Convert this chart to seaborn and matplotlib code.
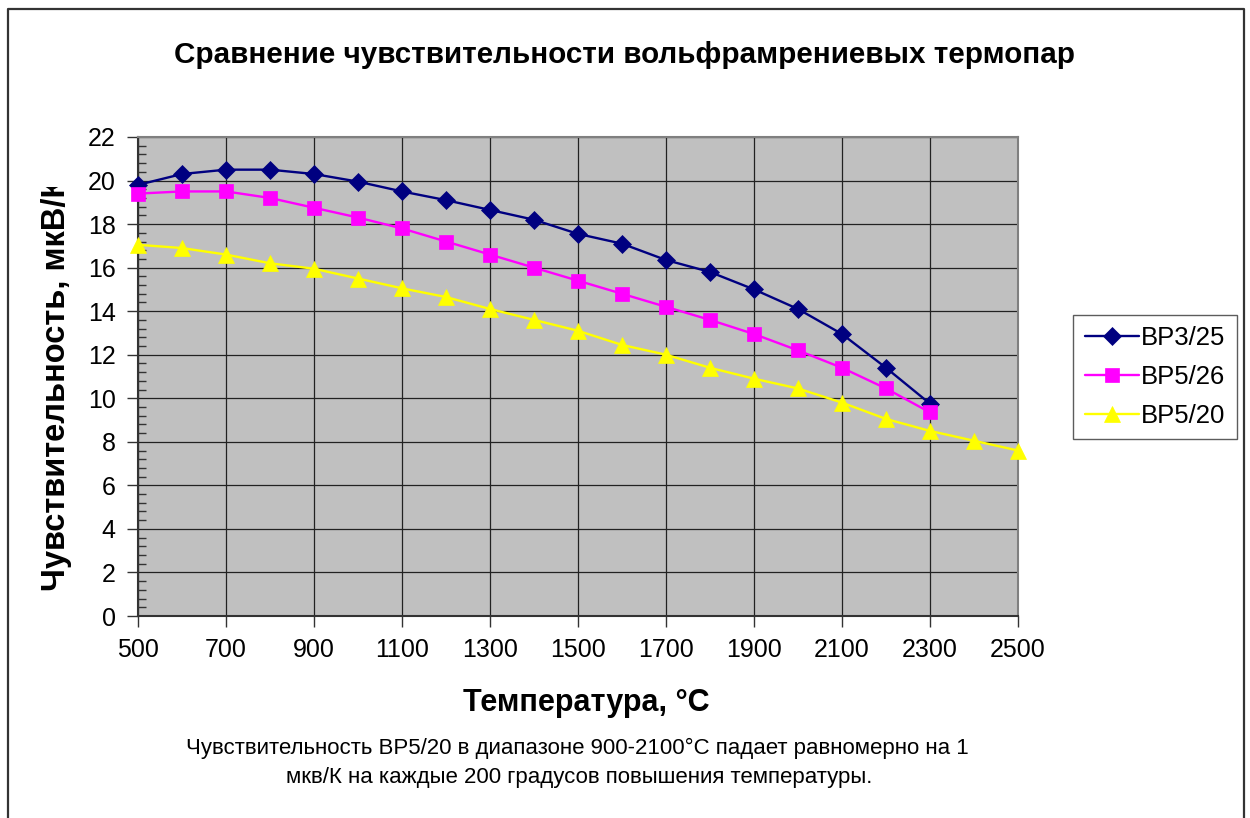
# IMPORTS

import matplotlib
matplotlib.use('Agg')
import matplotlib.pyplot as plt
from matplotlib.ticker import MultipleLocator
from matplotlib.transforms import Bbox, TransformedBbox
import numpy as np
import pandas as pd
import seaborn as sns

# DATA

temps_long = [500, 600, 700, 800, 900, 1000, 1100, 1200, 1300, 1400, 1500,
              1600, 1700, 1800, 1900, 2000, 2100, 2200, 2300, 2400, 2500]
temps_short = temps_long[:19]

bp3_25 = [19.8, 20.3, 20.5, 20.5, 20.3, 19.95, 19.5, 19.1, 18.65, 18.2, 17.55,
          17.1, 16.35, 15.8, 15.0, 14.1, 12.95, 11.4, 9.75]
bp5_26 = [19.4, 19.5, 19.5, 19.2, 18.75, 18.3, 17.8, 17.2, 16.6, 16.0, 15.4,
          14.8, 14.2, 13.6, 12.95, 12.2, 11.4, 10.45, 9.35]
bp5_20 = [17.05, 16.9, 16.6, 16.2, 15.95, 15.5, 15.05, 14.65, 14.1, 13.6, 13.1,
          12.45, 12.0, 11.4, 10.9, 10.45, 9.8, 9.05, 8.5, 8.05, 7.6]

series_names = ['ВР3/25', 'ВР5/26', 'ВР5/20']
series_temps = [temps_short, temps_short, temps_long]
series_values = [bp3_25, bp5_26, bp5_20]
series_colors = ['#000080', '#FF00FF', '#FFFF00']
series_markers = ['D', 's', '^']
series_msize = [9.5, 10, 11.5]

x_ticks = list(range(500, 2501, 200))
y_ticks = list(range(0, 23, 2))

title = 'Сравнение чувствительности вольфрамрениевых термопар'
x_label = 'Температура, °С'
y_label = 'Чувствительность, мкВ/К'
note_1 = 'Чувствительность ВР5/20 в диапазоне 900-2100°С падает равномерно на 1'
note_2 = 'мкв/К на каждые 200 градусов повышения температуры.'

# PLOT

sns.set_style('white')
plt.rcParams['font.family'] = ['Liberation Sans', 'DejaVu Sans']
plt.rcParams['text.color'] = 'black'
plt.rcParams['xtick.color'] = 'black'
plt.rcParams['ytick.color'] = 'black'

W, H = 1250, 818
fig = plt.figure(figsize=(W / 100, H / 100), dpi=100)
ax = fig.add_axes([138 / W, 1 - 616 / H, 880 / W, 479 / H])
ax.set_facecolor('#C0C0C0')

for name, xs, ys, col, mk, ms in zip(series_names, series_temps, series_values,
                                     series_colors, series_markers, series_msize):
    df = pd.DataFrame({'T': xs, 'S': ys})
    sns.lineplot(data=df, x='T', y='S', ax=ax, color=col, marker=mk,
                 markersize=ms, markeredgecolor=col, markeredgewidth=0.5,
                 linewidth=1.7, label=name, clip_on=False, zorder=3)

ax.set_xlim(500, 2500)
ax.set_ylim(0, 22)
ax.set_xticks(x_ticks)
ax.set_yticks(y_ticks)
ax.yaxis.set_minor_locator(MultipleLocator(0.4))
ax.tick_params(axis='both', which='major', labelsize=18, direction='out',
               length=8, width=1, color='#333333', labelcolor='black', pad=8,
               left=True, bottom=True)
ax.tick_params(axis='y', which='minor', direction='in', length=6, width=1,
               color='#333333', left=True)
ax.grid(True, which='major', color='#222222', linewidth=0.9)
ax.set_axisbelow(True)
for s in ['left', 'bottom']:
    ax.spines[s].set_color('#333333')
    ax.spines[s].set_linewidth(1.5)
for s in ['top', 'right']:
    ax.spines[s].set_color('#808080')
    ax.spines[s].set_linewidth(1.5)
ax.set_xlabel('')
ax.set_ylabel('')

# legend
leg = ax.legend(loc='center left', bbox_to_anchor=(1073 / W, 1 - 377 / H),
                bbox_transform=fig.transFigure, fontsize=18.5, frameon=True,
                fancybox=False, edgecolor='#333333', handlelength=2.1,
                labelspacing=0.58, borderpad=0.45, handletextpad=0.1,
                borderaxespad=0)
leg.get_frame().set_linewidth(1.0)

# texts
fig.text(0.5, 1 - 55 / H, title, ha='center', va='center', fontsize=21.3,
         fontweight='bold')
fig.text(586 / W, 1 - 703 / H, x_label, ha='center', va='center', fontsize=22,
         fontweight='bold')
yl = fig.text(57 / W, 1 - 591 / H, y_label, ha='center', va='bottom',
              rotation=90, fontsize=23.5, fontweight='bold')
yl.set_clip_box(TransformedBbox(Bbox.from_extents(0, 0, 0.2, 1 - 187 / H),
                                fig.transFigure))
yl.set_clip_on(True)

fig.text(577 / W, 1 - 748 / H, note_1, ha='center', va='center', fontsize=16)
fig.text(579 / W, 1 - 778 / H, note_2, ha='center', va='center', fontsize=16)

# outer border of the chart area
fig.add_artist(plt.Line2D([8 / W, 8 / W, 1244 / W, 1244 / W],
                          [0, 1 - 9 / H, 1 - 9 / H, 0],
                          transform=fig.transFigure, color='#333333',
                          linewidth=1.6))

fig.savefig('out.png', dpi=100)
